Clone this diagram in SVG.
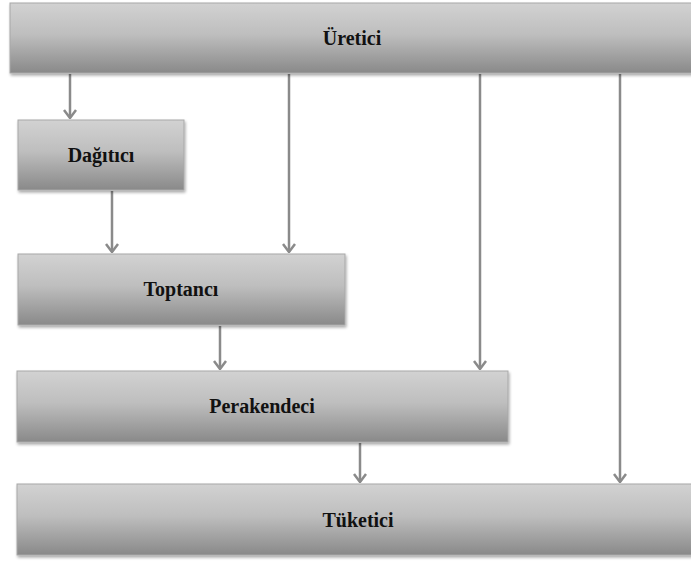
<svg xmlns="http://www.w3.org/2000/svg" width="691" height="563" viewBox="0 0 691 563">
<style>
.box{fill:url(#g);stroke:#a8a8a8;stroke-width:1;filter:url(#sh)}
.lbl{font-family:"Liberation Serif","Times New Roman",serif;font-weight:bold;font-size:20px;fill:#111;text-anchor:middle}
.conn{stroke:#8a8a8a;stroke-width:2.5;fill:none;marker-end:url(#ah)}
</style>
<defs>
<linearGradient id="g" x1="0" y1="0" x2="0" y2="1">
<stop offset="0" stop-color="#d2d2d2"/>
<stop offset="0.45" stop-color="#bebebe"/>
<stop offset="1" stop-color="#898989"/>
</linearGradient>
<filter id="sh" x="-5%" y="-10%" width="110%" height="130%">
<feGaussianBlur in="SourceAlpha" stdDeviation="1.5"/>
<feOffset dx="1" dy="2" result="b"/>
<feComponentTransfer><feFuncA type="linear" slope="0.35"/></feComponentTransfer>
<feMerge><feMergeNode/><feMergeNode in="SourceGraphic"/></feMerge>
</filter>
<marker id="ah" viewBox="0 0 10 14" refX="9" refY="7" markerWidth="10" markerHeight="14" markerUnits="userSpaceOnUse" orient="auto">
<path d="M1,1 L9,7 L1,13" fill="none" stroke="#8a8a8a" stroke-width="2.5"/>
</marker>
</defs>
<g id="connectors">
<path class="conn" d="M70,74 V118"/>
<path class="conn" d="M289,74 V252"/>
<path class="conn" d="M480,74 V369"/>
<path class="conn" d="M620,74 V482"/>
<path class="conn" d="M112,191 V252"/>
<path class="conn" d="M220,326 V369"/>
<path class="conn" d="M360,443 V482"/>
</g>
<g id="uretici">
<rect class="box" x="10" y="3" width="690" height="70"/>
<text class="lbl" x="352" y="45">Üretici</text>
</g>
<g id="dagitici">
<rect class="box" x="18" y="120" width="166" height="70"/>
<text class="lbl" x="101" y="162">Dağıtıcı</text>
</g>
<g id="toptanci">
<rect class="box" x="18" y="254" width="327" height="71"/>
<text class="lbl" x="181" y="296">Toptancı</text>
</g>
<g id="perakendeci">
<rect class="box" x="17" y="371" width="491" height="71"/>
<text class="lbl" x="262" y="413">Perakendeci</text>
</g>
<g id="tuketici">
<rect class="box" x="17" y="484" width="683" height="71"/>
<text class="lbl" x="358" y="527">Tüketici</text>
</g>
</svg>
